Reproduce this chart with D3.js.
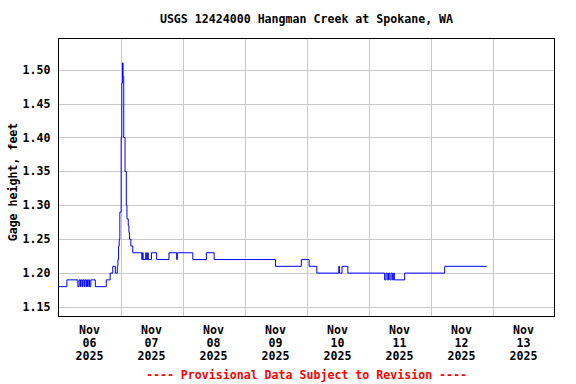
<!DOCTYPE html>
<html>
<head>
<meta charset="utf-8">
<script src="https://cdn.jsdelivr.net/npm/d3@7"></script>
<style>
  html, body { margin: 0; padding: 0; background: #fff; }
  svg text { font-family: "DejaVu Sans Mono", "Liberation Mono", monospace; font-weight: bold; }
</style>
</head>
<body>
<svg id="chart" width="576" height="384"></svg>
<script>
// ---- data (change points of 15-minute gage height record) ----
const obsTime = [
  "2025-11-06 00:00","2025-11-06 03:15","2025-11-06 07:30","2025-11-06 08:00","2025-11-06 08:30",
  "2025-11-06 08:45","2025-11-06 09:15","2025-11-06 09:30","2025-11-06 10:00","2025-11-06 10:15",
  "2025-11-06 10:45","2025-11-06 11:00","2025-11-06 11:15","2025-11-06 11:30","2025-11-06 12:00",
  "2025-11-06 12:30","2025-11-06 14:15","2025-11-06 18:30","2025-11-06 20:00","2025-11-06 21:00",
  "2025-11-06 22:00","2025-11-06 22:45","2025-11-06 23:00","2025-11-06 23:15","2025-11-06 23:30",
  "2025-11-06 23:45","2025-11-07 00:15","2025-11-07 00:30","2025-11-07 00:45","2025-11-07 01:00",
  "2025-11-07 01:15","2025-11-07 01:45","2025-11-07 02:15","2025-11-07 02:30","2025-11-07 03:00",
  "2025-11-07 03:15","2025-11-07 03:30","2025-11-07 04:00","2025-11-07 04:45","2025-11-07 08:15",
  "2025-11-07 08:30","2025-11-07 08:45","2025-11-07 09:45","2025-11-07 10:00","2025-11-07 10:30",
  "2025-11-07 10:45","2025-11-07 12:00","2025-11-07 14:00","2025-11-07 18:45","2025-11-07 21:45",
  "2025-11-07 22:00","2025-11-08 04:00","2025-11-08 09:15","2025-11-08 12:15","2025-11-09 12:00",
  "2025-11-09 22:00","2025-11-10 01:00","2025-11-10 04:00","2025-11-10 12:30","2025-11-10 12:45",
  "2025-11-10 13:45","2025-11-10 16:00","2025-11-11 06:15","2025-11-11 06:45","2025-11-11 07:15",
  "2025-11-11 07:45","2025-11-11 08:15","2025-11-11 08:45","2025-11-11 09:15","2025-11-11 09:45",
  "2025-11-11 10:00","2025-11-11 14:00","2025-11-12 05:30","2025-11-12 21:45"
];
const gageHeight = [
  1.18,1.19,1.18,1.19,1.18,
  1.19,1.18,1.19,1.18,1.19,
  1.18,1.19,1.18,1.19,1.18,
  1.19,1.18,1.19,1.20,1.21,
  1.20,1.21,1.22,1.24,1.25,
  1.29,1.40,1.48,1.51,1.49,
  1.40,1.35,1.30,1.28,1.27,
  1.26,1.25,1.24,1.23,1.22,
  1.23,1.22,1.23,1.22,1.23,
  1.22,1.23,1.22,1.23,1.22,
  1.23,1.22,1.23,1.22,1.21,
  1.22,1.21,1.20,1.21,1.20,
  1.21,1.20,1.19,1.20,1.19,
  1.20,1.19,1.20,1.19,1.20,
  1.19,1.20,1.21,1.21
];
const yTicks = [1.15, 1.20, 1.25, 1.30, 1.35, 1.40, 1.45, 1.50];
const dayLabels = [
  ["Nov","06","2025"],["Nov","07","2025"],["Nov","08","2025"],["Nov","09","2025"],
  ["Nov","10","2025"],["Nov","11","2025"],["Nov","12","2025"],["Nov","13","2025"]
];
const dayStarts = ["2025-11-06","2025-11-07","2025-11-08","2025-11-09","2025-11-10",
                   "2025-11-11","2025-11-12","2025-11-13","2025-11-14"];
const titleText = "USGS 12424000 Hangman Creek at Spokane, WA";
const yLabelText = "Gage height, feet";
const footerText = "---- Provisional Data Subject to Revision ----";

// ---- layout ----
const parseT = d3.timeParse("%Y-%m-%d %H:%M");
const parseD = d3.timeParse("%Y-%m-%d");
const L = 58.5, R = 554.5, T = 38.5, B = 316.5;
const FS = "11.6px";

const svg = d3.select("#chart");
const x = d3.scaleTime()
  .domain([parseD(dayStarts[0]), parseD(dayStarts[dayStarts.length - 1])])
  .range([L, R]);
const y = d3.scaleLinear().domain([1.136, 1.546]).range([B, T]);

const data = obsTime.map((t, i) => ({ t: parseT(t), v: gageHeight[i] }));

// grid
const grid = svg.append("g").attr("shape-rendering", "crispEdges")
  .attr("stroke", "#c8c8c8").attr("stroke-width", 1);
grid.selectAll("line.h").data(yTicks).join("line")
  .attr("x1", L).attr("x2", R)
  .attr("y1", d => Math.round(y(d)) + 0.5).attr("y2", d => Math.round(y(d)) + 0.5);
grid.selectAll("line.v").data(dayStarts.slice(1, -1).map(parseD)).join("line")
  .attr("y1", T).attr("y2", B)
  .attr("x1", d => Math.round(x(d)) + 0.5).attr("x2", d => Math.round(x(d)) + 0.5);

// data line
svg.append("path").datum(data)
  .attr("fill", "none").attr("stroke", "#0000ff").attr("stroke-width", 1)
  .attr("d", d3.line().x(d => x(d.t)).y(d => y(d.v)).curve(d3.curveStepAfter));

// frame
svg.append("rect").attr("x", L).attr("y", T).attr("width", R - L).attr("height", B - T)
  .attr("fill", "none").attr("stroke", "#000").attr("stroke-width", 1)
  .attr("shape-rendering", "crispEdges");

// y tick labels
svg.append("g").selectAll("text").data(yTicks).join("text")
  .attr("x", 50.5).attr("y", d => y(d)).attr("dy", "0.35em")
  .attr("text-anchor", "end").attr("font-size", FS).attr("fill", "#000")
  .text(d => d3.format(".2f")(d));

// x labels at noon
const xl = svg.append("g").selectAll("text").data(dayLabels).join("text")
  .attr("text-anchor", "middle").attr("font-size", FS).attr("fill", "#000")
  .attr("transform", (d, i) => {
    const noon = d3.timeHour.offset(parseD(dayStarts[i]), 12);
    return `translate(${x(noon)},0)`;
  });
xl.selectAll("tspan").data(d => d).join("tspan")
  .attr("x", 0).attr("y", (d, j) => 334 + j * 13).text(d => d);

// title
svg.append("text").attr("x", (L + R) / 2).attr("y", 23)
  .attr("text-anchor", "middle").attr("font-size", FS).attr("fill", "#000")
  .text(titleText);

// y axis label
svg.append("text").attr("transform", "translate(17,182) rotate(-90)")
  .attr("text-anchor", "middle").attr("font-size", FS).attr("fill", "#000")
  .text(yLabelText);

// footer
svg.append("text").attr("x", (L + R) / 2).attr("y", 378.5)
  .attr("text-anchor", "middle").attr("font-size", FS).attr("fill", "#ff0000")
  .text(footerText);
</script>
</body>
</html>
